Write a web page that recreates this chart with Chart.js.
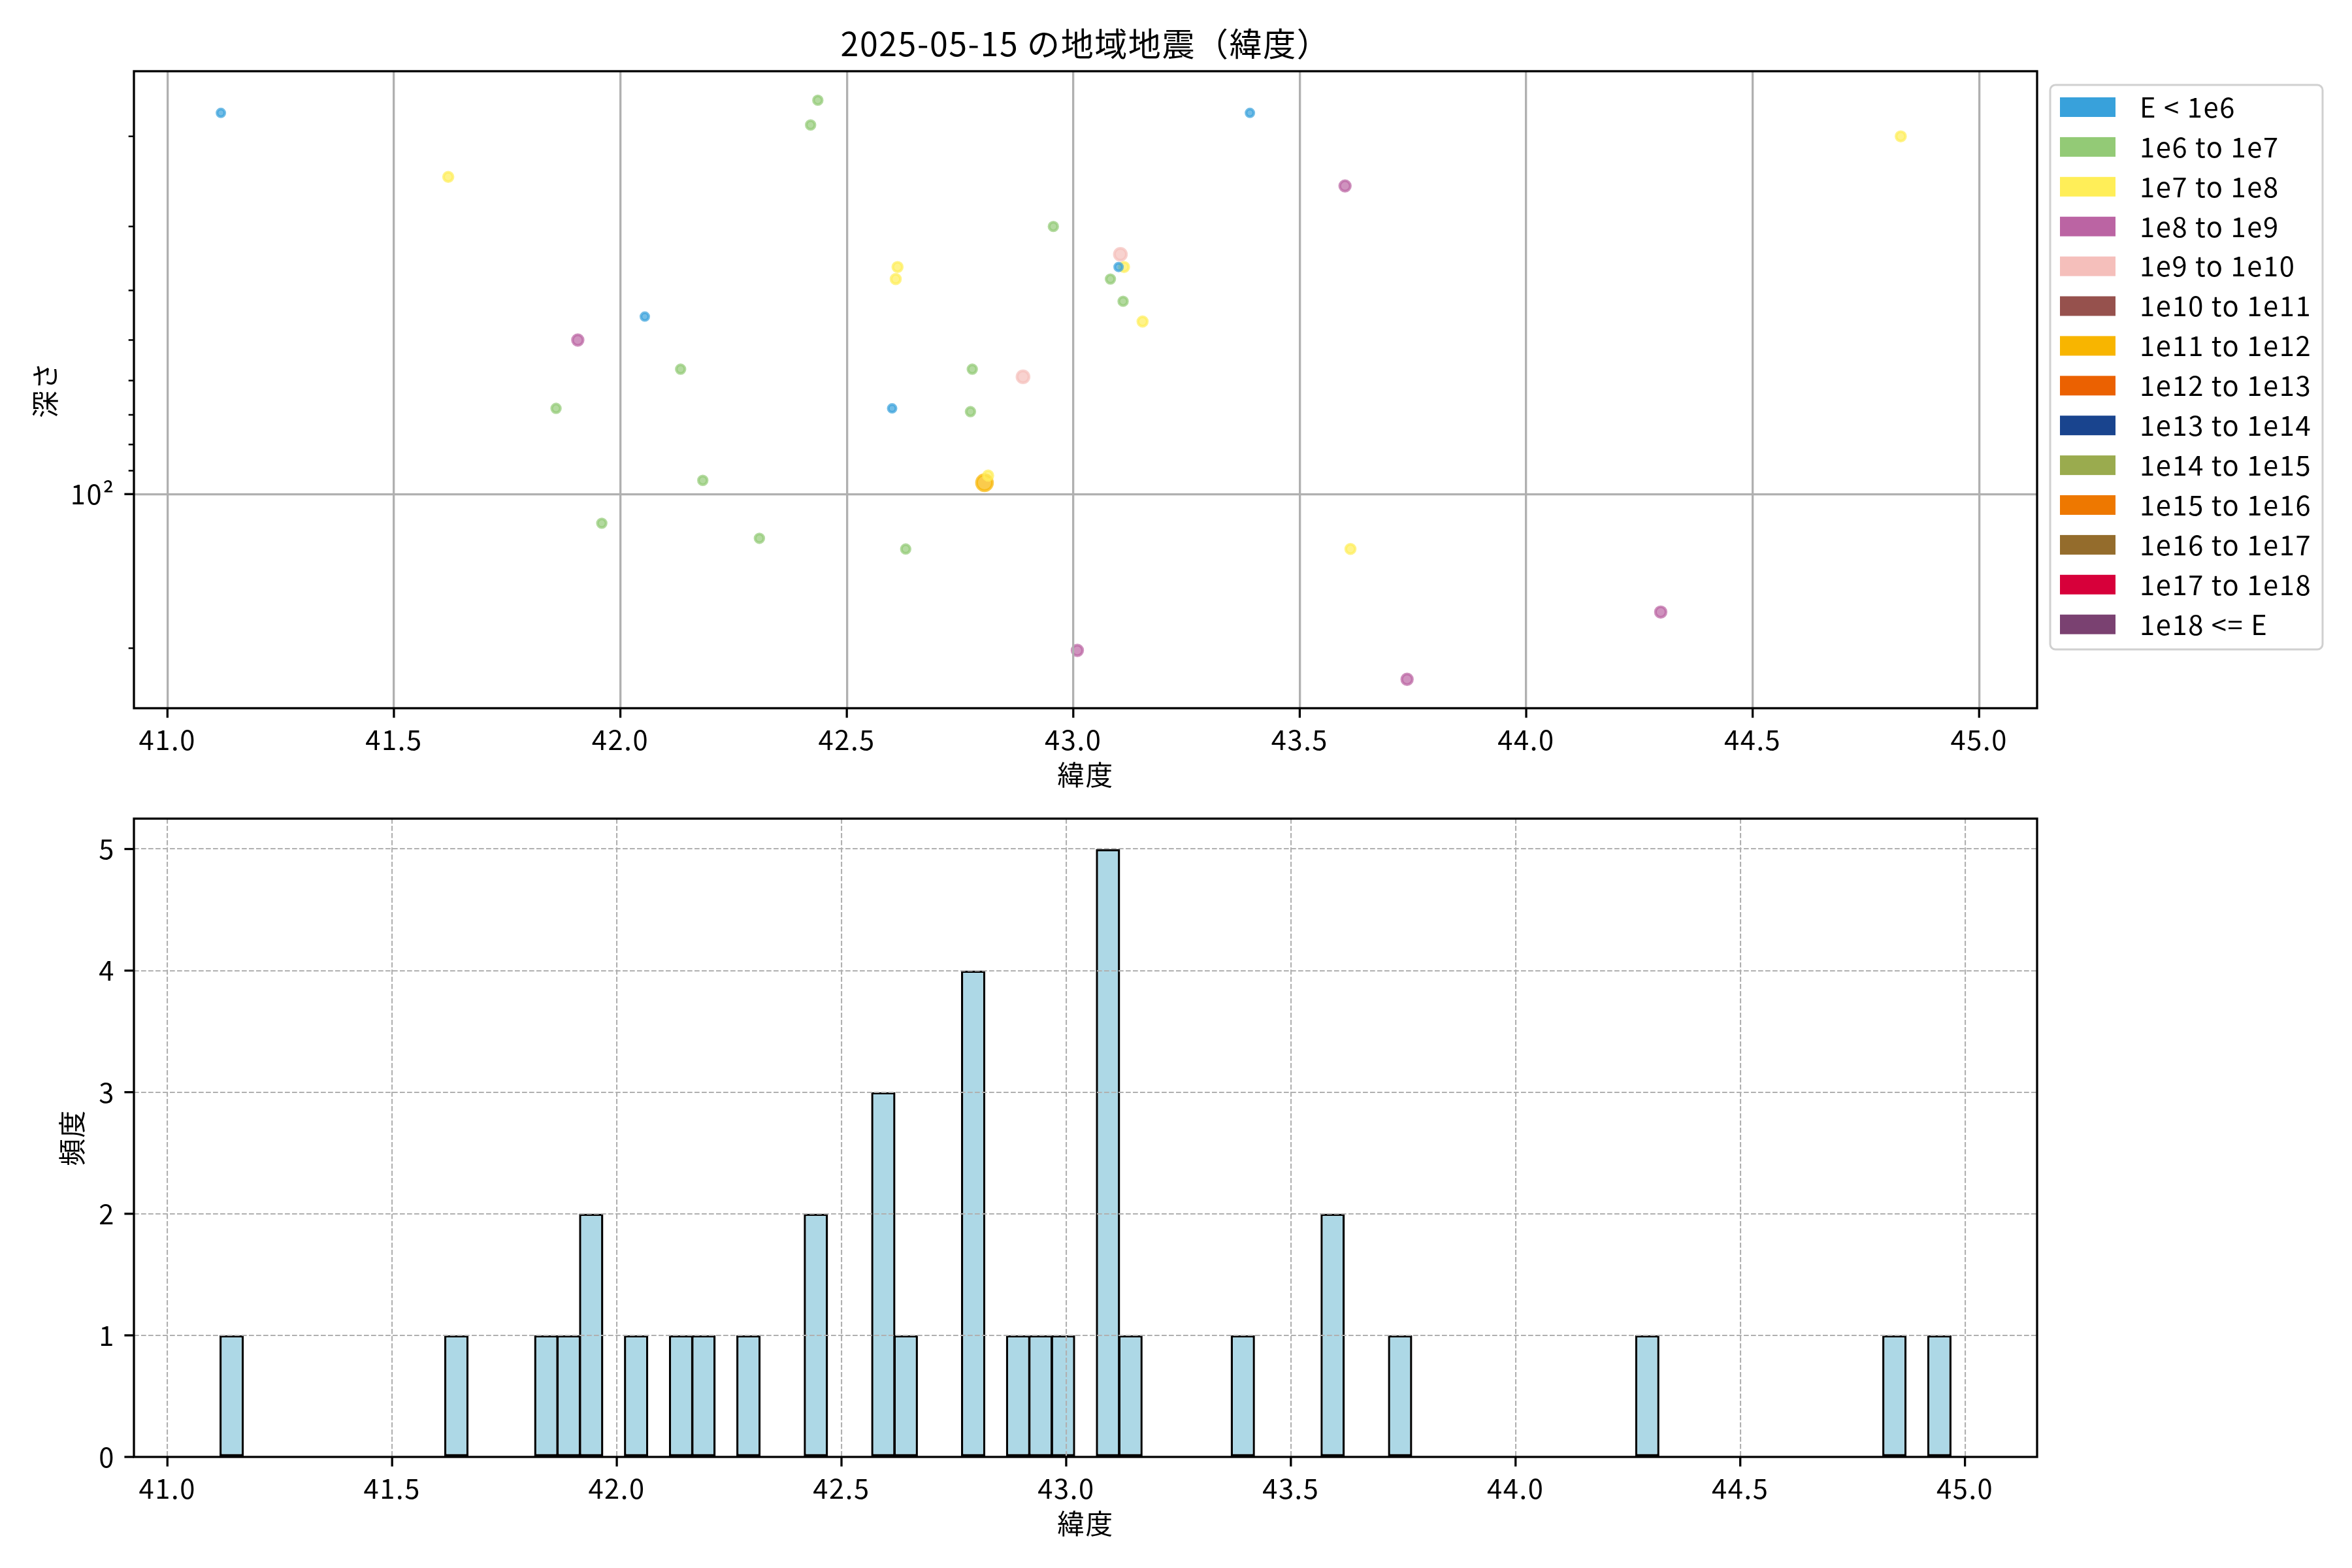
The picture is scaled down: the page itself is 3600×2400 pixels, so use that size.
<!DOCTYPE html>
<html>
<head>
<meta charset="utf-8">
<script src="https://cdn.jsdelivr.net/npm/chart.js@4.4.1/dist/chart.umd.min.js"></script>
<style>
  body { margin: 0; background: #ffffff; }
  #wrap { position: relative; width: 3600px; height: 2400px; background: #ffffff; }
  canvas { position: absolute; left: 0; }
</style>
</head>
<body>
<div id="wrap">
  <canvas id="c1" width="3600" height="1240" style="top:0px"></canvas>
  <canvas id="c2" width="3600" height="1160" style="top:1240px"></canvas>
</div>
<script>
// ---------------- data ----------------
const chartTitle = '2025-05-15 の地域地震（緯度）';
const xAxisLabel = '緯度';
const depthAxisLabel = '深さ';
const countAxisLabel = '頻度';

const energyClasses = ['E < 1e6', '1e6 to 1e7', '1e7 to 1e8', '1e8 to 1e9', '1e9 to 1e10',
  '1e10 to 1e11', '1e11 to 1e12', '1e12 to 1e13', '1e13 to 1e14', '1e14 to 1e15',
  '1e15 to 1e16', '1e16 to 1e17', '1e17 to 1e18', '1e18 <= E'];

// earthquakes: latitude, depth (km), energy class index
const quakeLat = [41.118, 42.054, 42.600, 43.100, 43.390,
  42.436, 42.420, 42.133, 42.777, 41.858, 42.773, 42.182, 41.959, 42.307, 42.630, 42.956, 43.082, 43.110,
  41.620, 42.612, 42.608, 42.812, 43.112, 43.153, 44.827, 43.612,
  41.906, 43.600, 44.297, 43.009, 43.737,
  42.889, 43.104,
  42.804];
const quakeDepth = [18, 45, 68, 36, 18,
  17, 19, 57, 57, 68, 69, 94, 114, 122, 128, 30, 38, 42,
  24, 36, 38, 92, 36, 46, 20, 128,
  50, 25, 170, 202, 230,
  59, 34,
  95];
const quakeClass = [0, 0, 0, 0, 0,
  1, 1, 1, 1, 1, 1, 1, 1, 1, 1, 1, 1, 1,
  2, 2, 2, 2, 2, 2, 2, 2,
  3, 3, 3, 3, 3,
  4, 4,
  6];

// histogram (bin left edges in degrees, counts)
const histBinWidth = 0.05;
const histBinLeft = [41.118, 41.618, 41.818, 41.868, 41.918, 42.018, 42.118, 42.168, 42.268, 42.418,
  42.568, 42.618, 42.768, 42.868, 42.918, 42.968, 43.068, 43.118, 43.368, 43.568,
  43.718, 44.268, 44.818, 44.918];
const histCount = [1, 1, 1, 1, 2, 1, 1, 1, 1, 2,
  3, 1, 4, 1, 1, 1, 5, 1, 1, 2,
  1, 1, 1, 1];

// ticks
const latTicks = [41.0, 41.5, 42.0, 42.5, 43.0, 43.5, 44.0, 44.5, 45.0];
const depthTicks = [20, 30, 40, 50, 60, 70, 80, 90, 100, 200];
const depthMajorTick = 100;
const depthMajorLabel = '10²';
const countTicks = [0, 1, 2, 3, 4, 5];

// ---------------- styles ----------------
const classColors = ['#38a1db', '#93ca76', '#ffee58', '#bb64a3', '#f5bfbb', '#96514d', '#f8b500',
  '#eb6101', '#19448e', '#9aab4e', '#ee7800', '#946c2c', '#d7003a', '#7a4171'];
const classRadius = [5.9, 6.6, 7.2, 8.1, 9.2, 10.6, 12.2, 13.5, 14.8, 16, 17, 18, 19, 20];
const FONT = '"Noto Sans CJK JP", "Noto Sans", sans-serif';
const FS = 41.7;
const LETTER_SPACING = '1.6px';

function rgba(hex, a) {
  const n = parseInt(hex.slice(1), 16);
  return `rgba(${(n >> 16) & 255},${(n >> 8) & 255},${n & 255},${a})`;
}

function noPad(s) { s.paddingTop = 0; s.paddingBottom = 0; s.paddingLeft = 0; s.paddingRight = 0; }

// ---------------- plugins ----------------
const spacing = {
  id: 'spacing',
  beforeInit(chart) { chart.ctx.letterSpacing = LETTER_SPACING; },
  beforeUpdate(chart) { chart.ctx.letterSpacing = LETTER_SPACING; },
  beforeDraw(chart) { chart.ctx.letterSpacing = LETTER_SPACING; }
};

const axisFrame = {
  id: 'axisFrame',
  afterDraw(chart) {
    const {ctx, chartArea: a} = chart;
    const xs = chart.scales.x, ys = chart.scales.y;
    ctx.save();
    ctx.strokeStyle = '#000';
    ctx.lineCap = 'butt';
    xs.ticks.forEach(t => {
      const p = xs.getPixelForValue(t.value);
      ctx.lineWidth = 3.3;
      ctx.beginPath(); ctx.moveTo(p, a.bottom); ctx.lineTo(p, a.bottom + 14.6); ctx.stroke();
    });
    ys.ticks.forEach(t => {
      const p = ys.getPixelForValue(t.value);
      const len = t.major ? 14.6 : 8.3;
      ctx.lineWidth = t.major ? 3.3 : 2.5;
      ctx.beginPath(); ctx.moveTo(a.left - len, p); ctx.lineTo(a.left, p); ctx.stroke();
    });
    ctx.lineWidth = 3.3;
    ctx.strokeRect(a.left, a.top, a.right - a.left, a.bottom - a.top);
    ctx.restore();
  }
};

const legendBox = {
  id: 'legendBox',
  afterDraw(chart) {
    const {ctx, chartArea: a} = chart;
    const left = a.right + 20, top = a.top + 21, w = 417, h = 864, r = 8;
    ctx.save();
    ctx.beginPath();
    ctx.moveTo(left + r, top);
    ctx.arcTo(left + w, top, left + w, top + h, r);
    ctx.arcTo(left + w, top + h, left, top + h, r);
    ctx.arcTo(left, top + h, left, top, r);
    ctx.arcTo(left, top, left + w, top, r);
    ctx.closePath();
    ctx.fillStyle = 'rgba(255,255,255,0.8)';
    ctx.fill();
    ctx.strokeStyle = '#d0d0d0';
    ctx.lineWidth = 3;
    ctx.stroke();
    ctx.font = `${FS}px ${FONT}`;
    ctx.textBaseline = 'middle';
    ctx.textAlign = 'left';
    chart.data.datasets.forEach((ds, i) => {
      const cy = top + 34 + i * 60.9;
      ctx.fillStyle = ds.legendColor;
      ctx.fillRect(left + 15, cy - 15, 85, 30);
      ctx.fillStyle = '#000';
      ctx.fillText(ds.label, left + 137, cy);
    });
    ctx.restore();
  }
};

// ---------------- top chart: scatter ----------------
const scatterSets = energyClasses.map((label, c) => {
  const pts = [];
  quakeLat.forEach((lat, i) => { if (quakeClass[i] === c) pts.push({x: lat, y: quakeDepth[i]}); });
  return {
    label,
    legendColor: classColors[c],
    data: pts,
    pointRadius: classRadius[c],
    pointHoverRadius: classRadius[c],
    pointBackgroundColor: rgba(classColors[c], 0.7),
    pointBorderColor: rgba(classColors[c], 0.7),
    pointBorderWidth: 4.2,
    showLine: false
  };
});

const tickFont = {family: FONT, size: FS};

new Chart(document.getElementById('c1'), {
  type: 'scatter',
  data: {datasets: scatterSets},
  options: {
    responsive: false, animation: false, devicePixelRatio: 1,
    layout: {padding: {left: 0, right: 482, top: 0, bottom: 0}},
    plugins: {
      legend: {display: false},
      tooltip: {enabled: false},
      title: {
        display: true, text: chartTitle, fullSize: false, color: '#000',
        font: {family: FONT, size: 50, weight: 'normal'},
        padding: {top: 37, bottom: 12}
      }
    },
    scales: {
      x: {
        type: 'linear', position: 'bottom', min: 40.926, max: 45.128, bounds: 'data',
        afterBuildTicks: s => { s.ticks = latTicks.map(v => ({value: v, major: true})); },
        afterFit: s => { s.height = 156; noPad(s); },
        ticks: {callback: v => Number(v).toFixed(1), font: tickFont, color: '#000', padding: 23.5, maxRotation: 0, autoSkip: false},
        grid: {color: '#b0b0b0', lineWidth: 3.3, drawTicks: false, z: 1},
        border: {display: false},
        title: {display: true, text: xAxisLabel, font: tickFont, color: '#000', padding: {top: 0, bottom: 29}}
      },
      y: {
        type: 'logarithmic', position: 'left', reverse: true, min: 14.92, max: 262, bounds: 'data',
        afterBuildTicks: s => { s.ticks = depthTicks.map(v => ({value: v, major: v === depthMajorTick})); },
        afterFit: s => { s.width = 205; noPad(s); },
        ticks: {callback: v => (v === depthMajorTick ? depthMajorLabel : ''), font: tickFont, color: '#000', padding: 29, autoSkip: false},
        grid: {color: ctx => (ctx.tick && ctx.tick.value === depthMajorTick ? '#b0b0b0' : 'rgba(0,0,0,0)'), lineWidth: 3.3, drawTicks: false, z: 1},
        border: {display: false},
        title: {display: true, text: depthAxisLabel, font: tickFont, color: '#000', padding: {top: 44, bottom: 0}}
      }
    }
  },
  plugins: [spacing, axisFrame, legendBox]
});

// ---------------- bottom chart: histogram ----------------
new Chart(document.getElementById('c2'), {
  type: 'bar',
  data: {
    datasets: [{
      label: countAxisLabel,
      data: histBinLeft.map((l, i) => ({x: l + histBinWidth / 2, y: histCount[i]})),
      backgroundColor: '#add8e6',
      borderColor: '#000',
      borderWidth: 3.4,
      borderSkipped: false,
      barPercentage: 1.08,
      categoryPercentage: 1,
      grouped: false
    }]
  },
  options: {
    responsive: false, animation: false, devicePixelRatio: 1,
    layout: {padding: {left: 0, right: 482, top: 13, bottom: 0}},
    plugins: {legend: {display: false}, tooltip: {enabled: false}, title: {display: false}},
    scales: {
      x: {
        type: 'linear', position: 'bottom', offset: false, min: 40.9255, max: 45.1605, bounds: 'data',
        afterBuildTicks: s => { s.ticks = latTicks.map(v => ({value: v, major: true})); },
        afterFit: s => { s.height = 170; noPad(s); },
        ticks: {callback: v => Number(v).toFixed(1), font: tickFont, color: '#000', padding: 23.5, maxRotation: 0, autoSkip: false},
        grid: {color: '#b0b0b0', lineWidth: 2.1, drawTicks: false, offset: false, z: 1},
        border: {display: false, dash: [7.7, 3.3]},
        title: {display: true, text: xAxisLabel, font: tickFont, color: '#000', padding: {top: 0, bottom: 43}}
      },
      y: {
        type: 'linear', position: 'left', min: 0, max: 5.25, bounds: 'data',
        afterBuildTicks: s => { s.ticks = countTicks.map(v => ({value: v, major: true})); },
        afterFit: s => { s.width = 205; noPad(s); },
        ticks: {callback: v => String(v), font: tickFont, color: '#000', padding: 29, autoSkip: false},
        grid: {color: '#b0b0b0', lineWidth: 2.1, drawTicks: false, offset: false, z: 1},
        border: {display: false, dash: [7.7, 3.3]},
        title: {display: true, text: countAxisLabel, font: tickFont, color: '#000', padding: {top: 85, bottom: 0}}
      }
    }
  },
  plugins: [spacing, axisFrame]
});
</script>
</body>
</html>
